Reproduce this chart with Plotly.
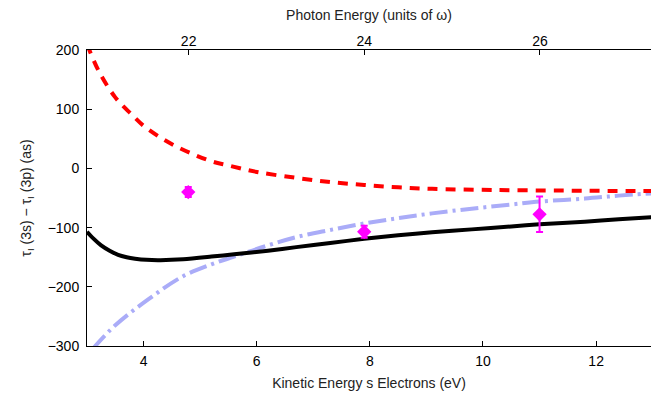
import plotly.graph_objects as go

# Kinetic energy (eV) grid
red_x = [3.0, 3.2, 3.5, 3.8, 4.0, 4.3, 4.6, 4.9, 5.2, 5.5, 6.0, 6.7, 7.3, 7.9, 8.5, 9.1, 10.2, 11.4, 12.2, 13.0]
red_y = [210, 166, 120, 90, 72, 52, 36, 23, 12, 5, -6, -16, -23, -28, -32, -34.5, -36.5, -37.5, -38, -38]

black_x = [3.0, 3.12, 3.25, 3.4, 3.55, 3.7, 3.85, 4.05, 4.3, 4.7, 5.2, 5.6, 6.2, 6.7, 7.3, 7.9, 8.5, 9.1, 9.8, 10.5, 11.0, 11.8, 12.4, 13.0]
black_y = [-107, -119, -130, -139, -146, -150, -152.5, -154.5, -155, -153.5, -149, -145, -139, -133, -126, -119, -113, -108, -103, -98, -94.5, -90, -86, -82.5]

blue_x = [3.1, 3.5, 4.1, 4.7, 5.2, 5.6, 6.2, 6.7, 7.3, 7.9, 8.5, 9.1, 9.8, 10.5, 11.0, 11.8, 12.4, 13.0]
blue_y = [-305, -265, -220, -182, -162, -149, -130, -116, -104, -93, -84, -76, -68, -61, -56, -51, -46, -42]

# Experimental points
exp_x = [4.79, 7.90, 11.0]
exp_y = [-40, -107, -77.5]
exp_err = [8.5, 10, 30]

x_ticks = [4, 6, 8, 10, 12]
y_ticks = [-300, -200, -100, 0, 100, 200]
top_ticks = [22, 24, 26]

FONT = "Liberation Sans, Arial, Helvetica, sans-serif"

fig = go.Figure()
fig.add_trace(go.Scatter(x=blue_x, y=blue_y, mode="lines",
                         line=dict(color="rgb(170,172,248)", width=4, dash="18px,5px,3px,5px", shape="spline"),
                         showlegend=False, hoverinfo="skip"))
fig.add_trace(go.Scatter(x=red_x, y=red_y, mode="lines",
                         line=dict(color="#ff0000", width=4, dash="10px,8px", shape="spline"),
                         showlegend=False, hoverinfo="skip"))
fig.add_trace(go.Scatter(x=black_x, y=black_y, mode="lines",
                         line=dict(color="black", width=4, shape="spline", smoothing=0.8),
                         showlegend=False, hoverinfo="skip"))
fig.add_trace(go.Scatter(x=exp_x, y=exp_y, mode="markers",
                         marker=dict(symbol="diamond", size=11, color="#ff00ff"),
                         error_y=dict(type="data", array=exp_err, color="#ff00ff", thickness=2, width=3.5),
                         showlegend=False, hoverinfo="skip"))
# invisible trace so the top axis is drawn
fig.add_trace(go.Scatter(x=[22, 26], y=[0, 0], xaxis="x2", mode="markers",
                         marker=dict(opacity=0), showlegend=False, hoverinfo="skip"))

axis_common = dict(showline=True, linecolor="black", linewidth=1, ticks="inside", ticklen=5,
                   tickwidth=1, tickcolor="black", showgrid=False, zeroline=False,
                   tickfont=dict(family=FONT, size=14, color="black"))

fig.update_layout(
    width=651, height=396,
    margin=dict(l=87, r=0, t=50, b=50),
    paper_bgcolor="white", plot_bgcolor="white",
    font=dict(family=FONT, size=14, color="black"),
    hovermode=False,
    xaxis=dict(range=[3, 12.97], tickvals=x_ticks, ticklabelstandoff=2,
               title=dict(text="Kinetic Energy s Electrons (eV)", standoff=10,
                          font=dict(family=FONT, size=14, color="#222")),
               **axis_common),
    xaxis2=dict(overlaying="x", side="top", range=[20.843, 27.264], tickvals=top_ticks,
                ticklabelstandoff=-3,
                title=dict(text="Photon Energy (units of ω)", standoff=9,
                           font=dict(family=FONT, size=14, color="#222")),
                **axis_common),
    yaxis=dict(range=[-300, 200], tickvals=y_ticks, ticklabelstandoff=4,
               title=dict(text="τ<sub>I</sub> (3s) − τ<sub>I</sub> (3p) (as)", standoff=12,
                          font=dict(family=FONT, size=14, color="#222")),
               **axis_common),
)

# remove the default page margin so the 651x396 figure fills the window exactly
fig.write_html("out.html", config={"displayModeBar": False},
               post_script="document.body.style.margin='0';document.body.style.overflow='hidden';")
